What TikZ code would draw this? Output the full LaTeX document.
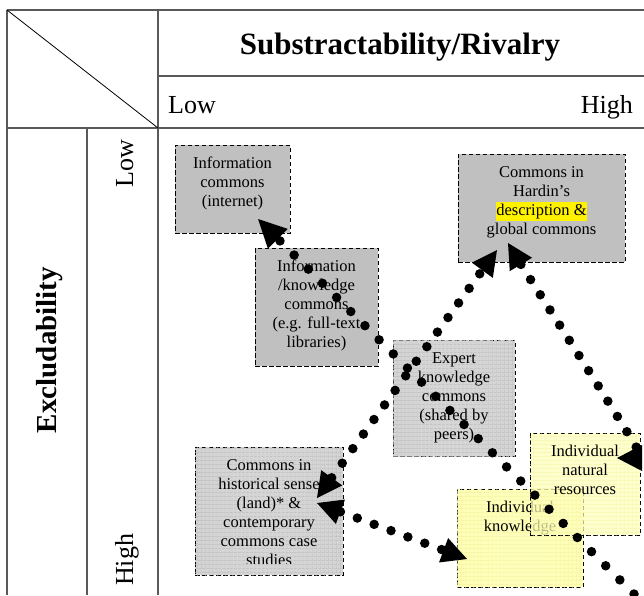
\documentclass[tikz,border=0pt]{standalone}
\usepackage{fontspec}
\setmainfont{Liberation Serif}
\usetikzlibrary{arrows.meta, patterns.meta, positioning}
\definecolor{boxgray}{HTML}{C0C0C0}
\definecolor{meshgray}{HTML}{D4D4D4}
\definecolor{meshline}{HTML}{BCBCBC}
\definecolor{paleyellow}{HTML}{FFFFB8}
\definecolor{meshyellow}{HTML}{F2F29A}
\definecolor{rulegray}{HTML}{595959}
\setlength{\fboxsep}{0pt}
\tikzset{
  rule/.style={draw=rulegray, line width=1.3pt},
  cbox/.style={draw, dash pattern=on 4.5pt off 2.5pt, line width=0.9pt, anchor=north west, inner sep=0pt, outer sep=0pt},
  plainbox/.style={cbox, fill=boxgray},
  meshbox/.style 2 args={cbox, fill=#1,
    postaction={pattern={Lines[angle=0,distance=4pt,line width=0.5pt]}, pattern color=#2},
    postaction={pattern={Lines[angle=90,distance=4pt,line width=0.5pt]}, pattern color=#2}},
  btext/.style={anchor=north, align=center, inner sep=0pt, yshift=-12pt, font=\fontsize{16.5}{19}\selectfont},
  dotline/.style={line width=9.5pt, line cap=round, dash pattern=on 0pt off 18pt},
  >={Triangle[length=25pt,width=26pt,line width=0pt]}
}

\begin{document}
\begin{tikzpicture}[x=1pt,y=-1pt]
  \useasboundingbox (0,0) rectangle (644,595);
  % table
  \draw[rule] (7,10) -- (644,10);
  \draw[rule] (158,76) -- (644,76);
  \draw[rule] (7,128) -- (644,128);
  \draw[rule] (7,10) -- (7,595);
  \draw[rule] (87,128) -- (87,595);
  \draw[rule] (158,10) -- (158,595);
  \draw[line width=0.8pt] (7,10) -- (158,128);

  \node[anchor=base, font=\fontsize{31}{36}\selectfont\bfseries] (rival) at (400,54) {Substractability/Rivalry};
  \node[anchor=base west, inner sep=0pt, font=\fontsize{26}{30}\selectfont] (rlow) at (168,113) {Low};
  \node[anchor=base east, inner sep=0pt, font=\fontsize{26}{30}\selectfont] (rhigh) at (633,113) {High};
  \node[rotate=90, font=\fontsize{29}{34}\selectfont\bfseries] (excl) at (50,350) {Excludability};
  \node[rotate=90, anchor=base west, inner sep=0pt, font=\fontsize{26}{30}\selectfont] (elow) at (133,188) {Low};
  \node[rotate=90, anchor=base west, inner sep=0pt, font=\fontsize{26}{30}\selectfont] (ehigh) at (133,586) {High};

  % boxes
  \node[plainbox, minimum width=115pt, minimum height=88pt] (info) at (175,145) {};
  \node[btext] (info-t) at (info.north) {Information\\commons\\(internet)};
  \node[plainbox, minimum width=123pt, minimum height=118pt] (infok) at (255,248) {};
  \node[btext] (infok-t) at (infok.north) {Information\\/knowledge\\commons\\(e.g. full-text\\libraries)};
  \node[plainbox, minimum width=167pt, minimum height=108pt] (hardin) at (458,154) {};
  \node[btext] (hardin-t) at (hardin.north) {Commons in\\Hardin’s\\\colorbox{yellow}{\strut description \&}\\global commons};
  \node[meshbox={meshgray}{meshline}, minimum width=122pt, minimum height=116pt] (expert) at (393,340) {};
  \node[btext] (expert-t) at (expert.north) {Expert\\knowledge\\commons\\(shared by\\peers)};
  \node[meshbox={meshgray}{meshline}, minimum width=148pt, minimum height=128pt] (hist) at (195,447) {};
  \begin{scope}
    \clip (hist.north west) rectangle ([yshift=12pt]hist.south east);
    \node[btext] (hist-t) at (hist.north) {Commons in\\historical sense\\(land)* \&\\contemporary\\commons case\\studies};
  \end{scope}
  \node[meshbox={paleyellow}{meshyellow}, minimum width=126pt, minimum height=98pt] (know) at (457,489) {};
  \node[btext] (know-t) at (know.north) {Individual\\knowledge};
  \node[meshbox={paleyellow}{meshyellow}, fill opacity=0.7, minimum width=110pt, minimum height=102pt] (natres) at (530,433) {};
  \node[btext] (natres-t) at (natres.north) {Individual\\natural\\resources};

  % arrows
  \coordinate (a1s) at (634,594);
  \coordinate (a1e) at (258,219);
  \coordinate (hardin-l) at (497,250);
  \coordinate (hardin-r) at (508,243);
  \coordinate (hist-a) at (317,498);
  \coordinate (hist-b) at (317,503);
  \coordinate (know-a) at (467,559);
  \coordinate (natres-a) at (617,458);
  \draw[dotline, dash pattern=on 0pt off 20pt, ->, >={Triangle[length=28pt,width=28pt,line width=0pt]}] (a1s) -- (a1e);
  \draw[dotline, <->] (hist-a) -- (hardin-l);
  \draw[dotline, <->] (hist-b) -- (know-a);
  \draw[dotline, <->] (hardin-r) to[out=-59, in=0, looseness=0.3] (natres-a);
\end{tikzpicture}
\end{document}
